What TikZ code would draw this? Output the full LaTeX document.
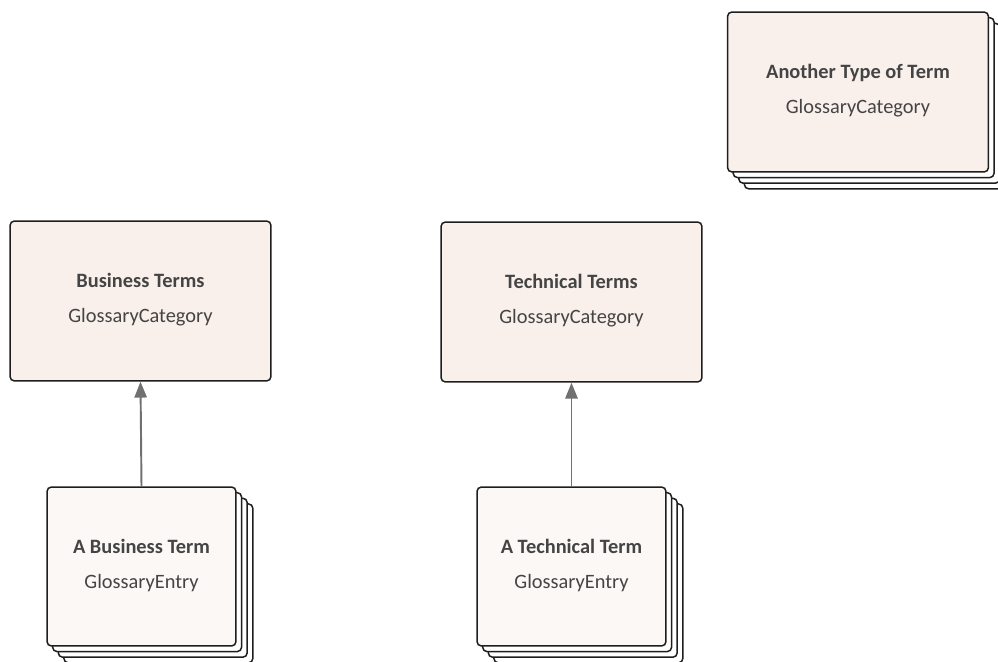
\documentclass[tikz,border=0pt]{standalone}
\usepackage{fontspec}
\setmainfont{Carlito}
\usetikzlibrary{arrows.meta,shadows}
\definecolor{catfill}{HTML}{F9F0EC}
\definecolor{entryfill}{HTML}{FCF8F5}
\definecolor{boxline}{HTML}{1E1E1E}
\definecolor{labeltext}{HTML}{444444}
\definecolor{linkgrey}{HTML}{707070}

\tikzset{
  termbox/.style={draw=boxline, line width=0.85pt, rounded corners=2.5pt,
    align=center, text=labeltext, inner sep=0pt,
    font=\fontsize{11.6}{20}\selectfont},
  category/.style={termbox, fill=catfill, minimum width=5.22cm, minimum height=3.2cm},
  entry/.style={termbox, fill=entryfill, minimum width=3.78cm, minimum height=3.18cm},
  sheet/.style={copy shadow={shadow xshift=#1, shadow yshift=-#1,
    draw=boxline, fill=white, line width=0.85pt}},
  stacked/.style={sheet=9.6pt, sheet=6.4pt, sheet=3.2pt},
  generalize/.style={draw=linkgrey, line width=1.1pt,
    -{Triangle[length=9pt,width=7pt,fill=linkgrey]}}
}

\begin{document}
\begin{tikzpicture}[x=0.02cm, y=-0.02cm]
  \useasboundingbox (0,0) rectangle (998,662);

  % categories
  \node[category, stacked] (other) at (858,92)
    {\textbf{Another Type of Term}\\GlossaryCategory\\[-16.5pt]};
  \node[category] (business) at (140.5,301)
    {\textbf{Business Terms}\\GlossaryCategory\\[-16.5pt]};
  \node[category] (technical) at (571.5,302)
    {\textbf{Technical Terms}\\GlossaryCategory\\[-16.5pt]};

  % entries
  \node[entry, stacked] (bterm) at (141.5,566.5)
    {\textbf{A Business Term}\\GlossaryEntry\\[-16.5pt]};
  \node[entry, stacked] (tterm) at (571.5,566.5)
    {\textbf{A Technical Term}\\GlossaryEntry\\[-16.5pt]};

  \draw[generalize] (bterm.north) -- (business.south);
  \draw[generalize] (tterm.north) -- (technical.south);
\end{tikzpicture}
\end{document}
